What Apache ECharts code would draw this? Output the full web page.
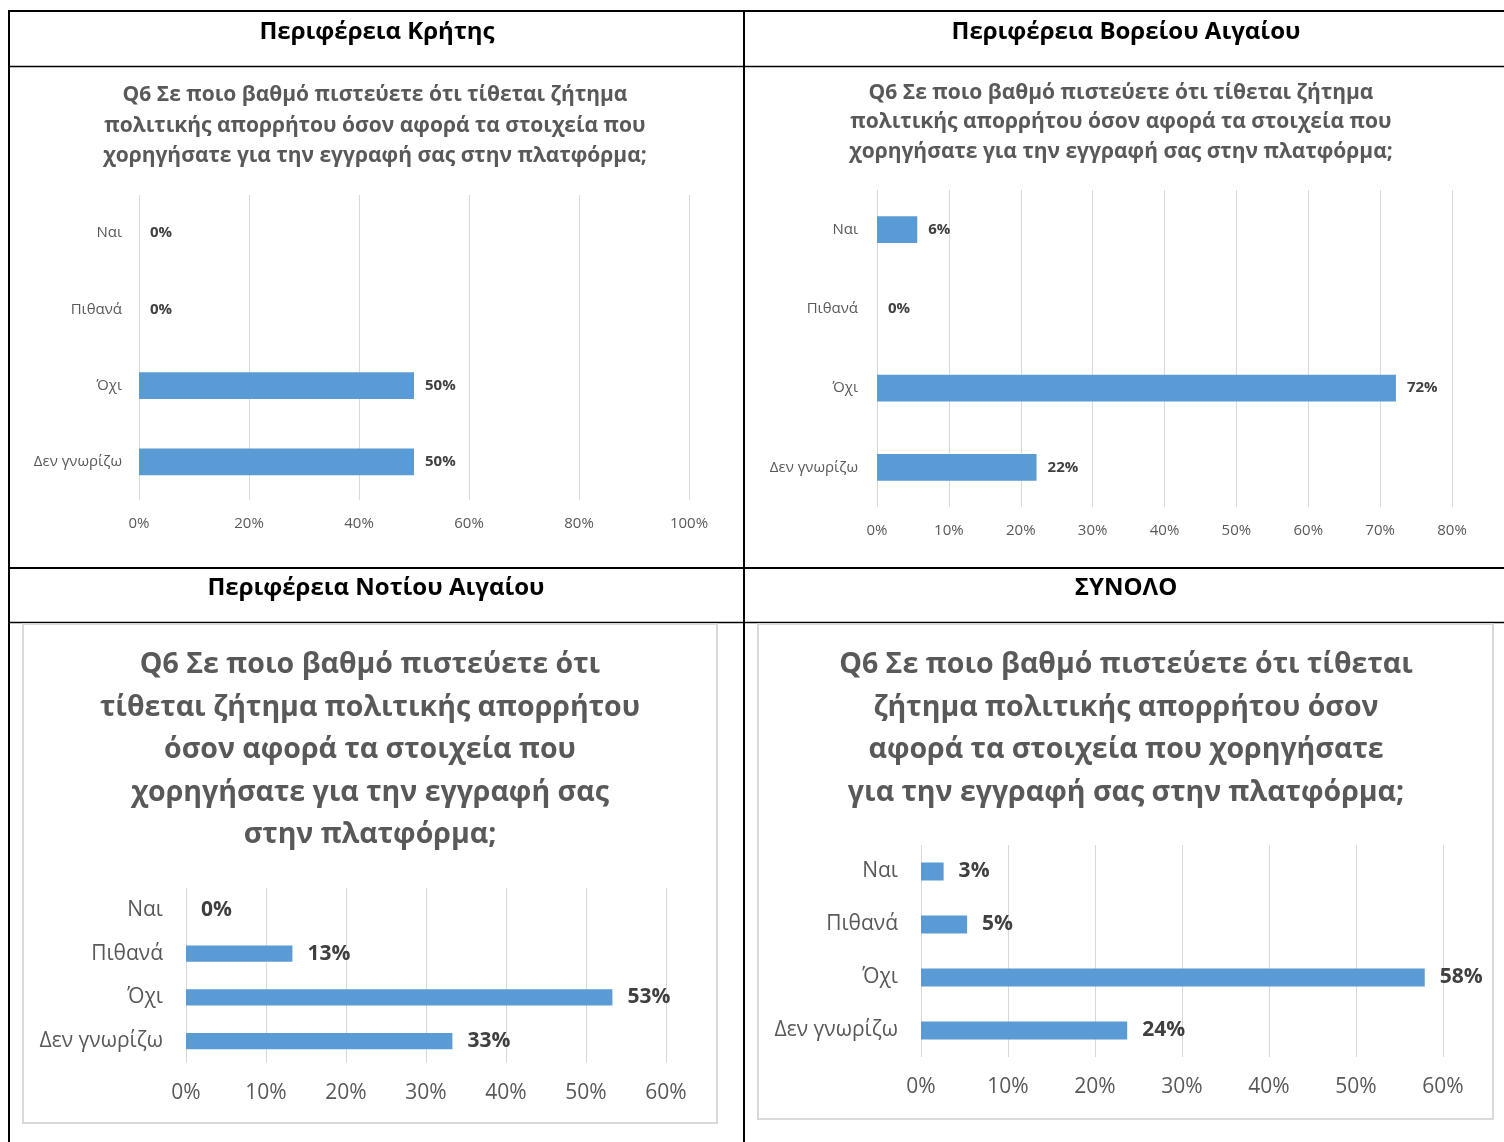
<!DOCTYPE html>
<html>
<head>
<meta charset="utf-8">
<script src="https://cdn.jsdelivr.net/npm/echarts@6/dist/echarts.min.js"></script>
<style>
  html, body { margin: 0; padding: 0; background: #fff; }
  #chart { width: 1504px; height: 1142px; }
</style>
</head>
<body>
<div id="chart"></div>
<script>
// categories (top to bottom)
const categories = ['Ναι', 'Πιθανά', 'Όχι', 'Δεν γνωρίζω']

// percentages per region
const kritis = [0, 0, 50, 50]
const voreiouAigaiou = [5.6, 0, 72.2, 22.2]
const notiouAigaiou = [0, 13.3, 53.3, 33.3]
const synolo = [2.6, 5.3, 57.9, 23.7]

// axis maxima / steps
const axisMax = [100, 80, 60, 60]
const axisStep = [20, 10, 10, 10]

// table headers
const headers = ['Περιφέρεια Κρήτης', 'Περιφέρεια Βορείου Αιγαίου', 'Περιφέρεια Νοτίου Αιγαίου', 'ΣΥΝΟΛΟ']

// chart titles (line breaks as in the picture)
const questionTop = 'Q6 Σε ποιο βαθμό πιστεύετε ότι τίθεται ζήτημα\nπολιτικής απορρήτου όσον αφορά τα στοιχεία που\nχορηγήσατε για την εγγραφή σας στην πλατφόρμα;'
const questionSouth = 'Q6 Σε ποιο βαθμό πιστεύετε ότι\nτίθεται ζήτημα πολιτικής απορρήτου\nόσον αφορά τα στοιχεία που\nχορηγήσατε για την εγγραφή σας\nστην πλατφόρμα;'
const questionTotal = 'Q6 Σε ποιο βαθμό πιστεύετε ότι τίθεται\nζήτημα πολιτικής απορρήτου όσον\nαφορά τα στοιχεία που χορηγήσατε\nγια την εγγραφή σας στην πλατφόρμα;'

const seriesData = [kritis, voreiouAigaiou, notiouAigaiou, synolo]

const BLUE = '#5b9bd5'
const GRID_LINE = '#d9d9d9'
const TEXT = '#595959'
const LABEL = '#404040'
const FONT = 'Open Sans'

// layout of each panel
const panels = [
  { grid: { left: 139, top: 195, width: 550, height: 305 }, font: 15, catMargin: 17, xMargin: 16, barWidth: '35%', dist: 11 },
  { grid: { left: 877, top: 190, width: 575, height: 317 }, font: 15, catMargin: 19, xMargin: 16, barWidth: '34%', dist: 11 },
  { grid: { left: 186, top: 888, width: 480, height: 175 }, font: 21, catMargin: 23, xMargin: 20, barWidth: '37%', dist: 15 },
  { grid: { left: 921, top: 845, width: 522, height: 212 }, font: 21, catMargin: 23, xMargin: 20, barWidth: '34%', dist: 15 }
]

const headerTitles = [
  { text: headers[0], left: 377, top: 18 },
  { text: headers[1], left: 1126, top: 18 },
  { text: headers[2], left: 376, top: 574 },
  { text: headers[3], left: 1126, top: 574 }
].map(t => ({
  text: t.text, left: t.left, top: t.top, textAlign: 'center', padding: 0,
  textStyle: { fontFamily: FONT, fontSize: 24, fontWeight: 'bold', color: '#000', lineHeight: 28 }
}))

const chartTitles = [
  { text: questionTop, left: 375, top: 80, lh: 30.5, size: 21 },
  { text: questionTop, left: 1121, top: 78, lh: 29.5, size: 21 },
  { text: questionSouth, left: 370, top: 644, lh: 42.5, size: 28.5 },
  { text: questionTotal, left: 1126, top: 644, lh: 42.5, size: 28.5 }
].map(t => ({
  text: t.text, left: t.left, top: t.top, textAlign: 'center', padding: 0,
  textStyle: { fontFamily: FONT, fontSize: t.size, fontWeight: 'bold', color: TEXT, lineHeight: t.lh }
}))

const chart = echarts.init(document.getElementById('chart'))

const option = {
  animation: false,
  textStyle: { fontFamily: FONT },
  title: headerTitles.concat(chartTitles),
  grid: panels.map(p => Object.assign({ containLabel: false }, p.grid)),
  xAxis: panels.map((p, i) => ({
    type: 'value',
    gridIndex: i,
    min: 0,
    max: axisMax[i],
    interval: axisStep[i],
    axisLine: { show: false },
    axisTick: { show: false },
    splitLine: { show: true, lineStyle: { color: GRID_LINE, width: 1 } },
    axisLabel: {
      formatter: '{value}%',
      color: TEXT,
      fontSize: p.font,
      margin: p.xMargin,
      fontFamily: FONT
    }
  })),
  yAxis: panels.map((p, i) => ({
    type: 'category',
    gridIndex: i,
    data: categories,
    inverse: true,
    axisLine: { show: false },
    axisTick: { show: false },
    axisLabel: { color: TEXT, fontSize: p.font, margin: p.catMargin, fontFamily: FONT }
  })),
  series: seriesData.map((d, i) => ({
    type: 'bar',
    xAxisIndex: i,
    yAxisIndex: i,
    data: d,
    barWidth: panels[i].barWidth,
    itemStyle: { color: BLUE },
    label: {
      show: true,
      position: 'right',
      distance: panels[i].dist,
      formatter: p => Math.round(p.value) + '%',
      color: LABEL,
      fontWeight: 'bold',
      fontSize: panels[i].font,
      fontFamily: FONT
    }
  })),
  graphic: [
    // chart frames of the bottom row
    { type: 'rect', shape: { x: 23, y: 624, width: 694, height: 499 }, style: { fill: 'none', stroke: '#d9d9d9', lineWidth: 2 }, z: 1 },
    { type: 'rect', shape: { x: 758, y: 624, width: 735, height: 495 }, style: { fill: 'none', stroke: '#d9d9d9', lineWidth: 2 }, z: 1 },
    // table lines
    { type: 'line', shape: { x1: 8, y1: 11, x2: 1504, y2: 11 }, style: { stroke: '#000', lineWidth: 2 } },
    { type: 'line', shape: { x1: 8, y1: 66.5, x2: 1504, y2: 66.5 }, style: { stroke: '#000', lineWidth: 1.5 } },
    { type: 'line', shape: { x1: 8, y1: 568, x2: 1504, y2: 568 }, style: { stroke: '#000', lineWidth: 2 } },
    { type: 'line', shape: { x1: 8, y1: 622.5, x2: 1504, y2: 622.5 }, style: { stroke: '#000', lineWidth: 1.5 } },
    { type: 'line', shape: { x1: 9, y1: 10, x2: 9, y2: 1142 }, style: { stroke: '#000', lineWidth: 2 } },
    { type: 'line', shape: { x1: 744, y1: 10, x2: 744, y2: 1142 }, style: { stroke: '#000', lineWidth: 2 } }
  ]
}

chart.setOption(option)
</script>
</body>
</html>
